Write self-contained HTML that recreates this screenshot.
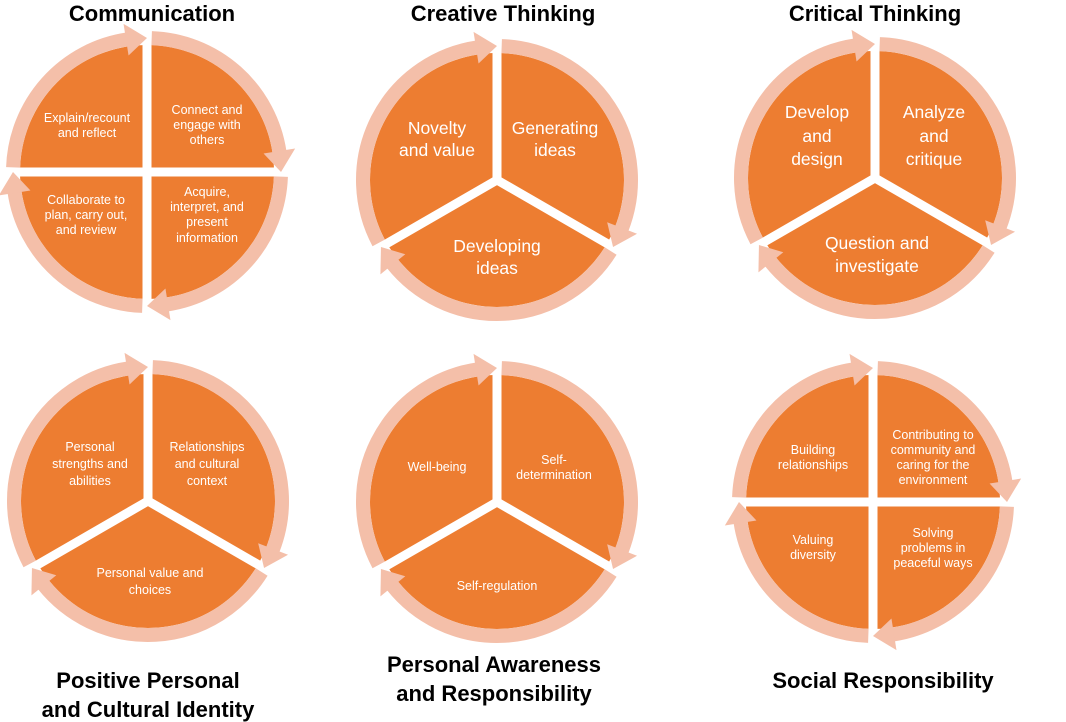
<!DOCTYPE html>
<html><head><meta charset="utf-8">
<style>
html,body{margin:0;padding:0;background:#fff;}
svg{display:block;}
.t{font-family:"Liberation Sans",sans-serif;font-weight:bold;font-size:22px;fill:#000;text-anchor:middle;}
.l{font-family:"Liberation Sans",sans-serif;fill:#fff;text-anchor:middle;}
.s{font-size:12.5px;}
.b{font-size:17.5px;}
</style></head>
<body>
<svg id="svg" width="1066" height="722" viewBox="0 0 1066 722" xmlns="http://www.w3.org/2000/svg">
<g id="shapes"></g>
<text class="t" x="152" y="21">Communication</text>
<text class="t" x="503" y="21">Creative Thinking</text>
<text class="t" x="875" y="21">Critical Thinking</text>
<text class="t" x="148" y="688">Positive Personal</text>
<text class="t" x="148" y="717">and Cultural Identity</text>
<text class="t" x="494" y="672">Personal Awareness</text>
<text class="t" x="494" y="701">and Responsibility</text>
<text class="t" x="883" y="688">Social Responsibility</text>

<g class="l s">
<text x="87" y="122">Explain/recount</text><text x="87" y="137">and reflect</text>
<text x="207" y="114">Connect and</text><text x="207" y="129">engage with</text><text x="207" y="144">others</text>
<text x="86" y="204">Collaborate to</text><text x="86" y="219">plan, carry out,</text><text x="86" y="234">and review</text>
<text x="207" y="196">Acquire,</text><text x="207" y="211">interpret, and</text><text x="207" y="226">present</text><text x="207" y="242">information</text>
</g>
<g class="l b">
<text x="437" y="134">Novelty</text><text x="437" y="156">and value</text>
<text x="555" y="134">Generating</text><text x="555" y="156">ideas</text>
<text x="497" y="252">Developing</text><text x="497" y="274">ideas</text>
<text x="817" y="118">Develop</text><text x="817" y="142">and</text><text x="817" y="165">design</text>
<text x="934" y="118">Analyze</text><text x="934" y="142">and</text><text x="934" y="165">critique</text>
<text x="877" y="249">Question and</text><text x="877" y="272">investigate</text>
</g>
<g class="l s">
<text x="90" y="451">Personal</text><text x="90" y="468">strengths and</text><text x="90" y="485">abilities</text>
<text x="207" y="451">Relationships</text><text x="207" y="468">and cultural</text><text x="207" y="485">context</text>
<text x="150" y="577">Personal value and</text><text x="150" y="594">choices</text>
<text x="437" y="471">Well-being</text>
<text x="554" y="464">Self-</text><text x="554" y="479">determination</text>
<text x="497" y="590">Self-regulation</text>
<text x="813" y="454">Building</text><text x="813" y="469">relationships</text>
<text x="933" y="439">Contributing to</text><text x="933" y="454">community and</text><text x="933" y="469">caring for the</text><text x="933" y="484">environment</text>
<text x="813" y="544">Valuing</text><text x="813" y="559">diversity</text>
<text x="933" y="537">Solving</text><text x="933" y="552">problems in</text><text x="933" y="567">peaceful ways</text>
</g>
</svg>
<script>
(function(){
var g=document.getElementById('shapes'),NS='http://www.w3.org/2000/svg';
function el(n,a){var e=document.createElementNS(NS,n);for(var k in a)e.setAttribute(k,a[k]);g.appendChild(e);return e;}
function P(cx,cy,r,a){a=a*Math.PI/180;return [cx+r*Math.cos(a),cy+r*Math.sin(a)];}
function draw(cx,cy,n){
  var ro=127,R=134,w=14;
  el('circle',{cx:cx,cy:cy,r:ro,fill:'#ed7d31'});
  var bs=n==4?[-90,0,90,180]:[-90,30,150];
  bs.forEach(function(b){var p=P(cx,cy,160,b);el('line',{x1:cx,y1:cy,x2:p[0],y2:p[1],stroke:'#fff','stroke-width':9});});
  for(var i=0;i<n;i++){
    var a0=bs[i]+2,a1=bs[(i+1)%n];if(a1<=bs[i])a1+=360;
    var tip=a1-1,base=tip-8;
    var s=P(cx,cy,R,a0),e=P(cx,cy,R,base+0.5);
    var large=(base-a0)>180?1:0;
    el('path',{d:'M'+s[0]+' '+s[1]+' A'+R+' '+R+' 0 '+large+' 1 '+e[0]+' '+e[1],fill:'none',stroke:'#f4bfa9','stroke-width':w});
    var q1=P(cx,cy,R-16,base),q2=P(cx,cy,R+16,base),t=P(cx,cy,R,tip+1);
    el('polygon',{points:q1.join(',')+' '+q2.join(',')+' '+t.join(','),fill:'#f4bfa9'});
  }
}
draw(147,172,4);draw(497,180,3);draw(875,178,3);
draw(148,501,3);draw(497,502,3);draw(873,502,4);
})();
</script>
</body></html>
